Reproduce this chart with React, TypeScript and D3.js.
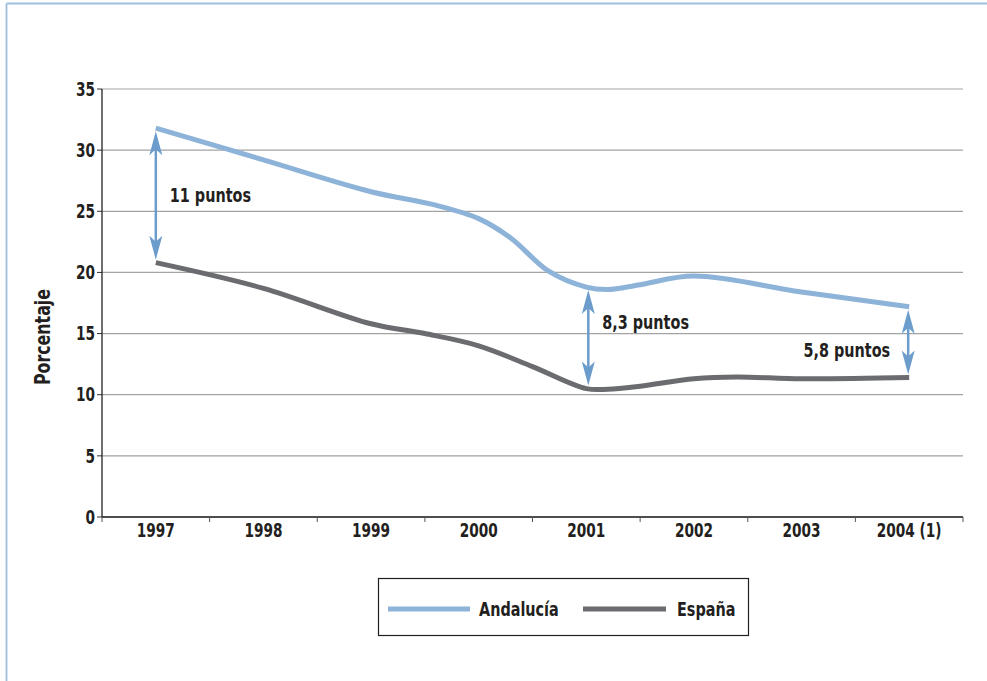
import React from "react";
import * as d3 from "d3";

// Year categories shown on the horizontal axis
const years = [1997, 1998, 1999, 2000, 2001, 2002, 2003, 2004];
const yearLabels = ["1997", "1998", "1999", "2000", "2001", "2002", "2003", "2004 (1)"];

// Sample positions (fractional years) and values for each series
const andaluciaT = [1997, 1998, 1999, 1999.6, 2000, 2000.3, 2000.65, 2001, 2001.2, 2001.5, 2002, 2003, 2004];
const andaluciaV = [31.8, 29.2, 26.6, 25.5, 24.4, 22.8, 20.1, 18.8, 18.6, 19.0, 19.7, 18.4, 17.2];

const espanaT = [1997, 1998, 1999, 1999.5, 2000, 2000.5, 2001, 2001.2, 2001.5, 2002, 2002.4, 2003, 2004];
const espanaV = [20.8, 18.7, 15.8, 15.0, 14.0, 12.3, 10.5, 10.45, 10.7, 11.3, 11.45, 11.3, 11.4];

// Gap annotations: year, upper value, lower value, label
const gapYears = [1997, 2001, 2004];
const gapTop = [31.8, 18.8, 17.2];
const gapBottom = [20.8, 10.5, 11.4];
const gapLabels = ["11 puntos", "8,3 puntos", "5,8 puntos"];

const yTicks = [0, 5, 10, 15, 20, 25, 30, 35];
const seriesNames = ["Andalucía", "España"];

const W = 987;
const H = 681;
const FONT = "'DejaVu Sans Condensed', 'DejaVu Sans', sans-serif";
const INK = "#231f20";
const BLUE = "#8db3d9";
const GREY = "#6b6c70";
const ARROW = "#6b9ccc";
const SX = 0.8;

// Bold, horizontally condensed label
function Label(props: {
  x: number;
  y: number;
  size: number;
  anchor?: "start" | "middle" | "end";
  rotate?: number;
  children: React.ReactNode;
}) {
  const { x, y, size, anchor = "start", rotate = 0, children } = props;
  return (
    <text
      transform={`translate(${x},${y}) rotate(${rotate}) scale(${SX},1)`}
      textAnchor={anchor}
      dy="0.35em"
      fontSize={size}
      fontWeight="bold"
      fill={INK}
    >
      {children}
    </text>
  );
}

export default function App() {
  const x = d3.scaleLinear().domain([1996.5, 2004.5]).range([102, 963]);
  const y = d3.scaleLinear().domain([0, 35]).range([517, 89]);

  const line = d3
    .line<[number, number]>()
    .x((d) => x(d[0]))
    .y((d) => y(d[1]))
    .curve(d3.curveCatmullRom.alpha(0.5));

  const andData = andaluciaT.map((t, i) => [t, andaluciaV[i]] as [number, number]);
  const espData = espanaT.map((t, i) => [t, espanaV[i]] as [number, number]);

  const boundaries = d3.range(years.length + 1).map((i) => 1996.5 + i);

  // Double-headed arrow with swept-back heads
  const arrow = (cx: number, y1: number, y2: number) => {
    const hl = 24;
    const hw = 6.5;
    const notch = 6;
    const up = `M${cx},${y1} L${cx + hw},${y1 + hl} L${cx},${y1 + hl - notch} L${cx - hw},${y1 + hl} Z`;
    const down = `M${cx},${y2} L${cx + hw},${y2 - hl} L${cx},${y2 - hl + notch} L${cx - hw},${y2 - hl} Z`;
    return (
      <g>
        <line x1={cx} x2={cx} y1={y1 + 10} y2={y2 - 10} stroke={ARROW} strokeWidth={2.5} />
        <path d={up} fill={ARROW} />
        <path d={down} fill={ARROW} />
      </g>
    );
  };

  return (
    <svg
      width={W}
      height={H}
      style={{ position: "absolute", left: 0, top: 0, background: "#fff" }}
      fontFamily={FONT}
    >
      {/* outer frame */}
      <line x1={6.5} x2={6.5} y1={3.5} y2={H} stroke="#9dbfdd" strokeWidth={1.8} />
      <line x1={6.5} x2={W} y1={3.5} y2={3.5} stroke="#9dbfdd" strokeWidth={1.8} />

      {/* horizontal grid and y ticks */}
      {yTicks.map((t) => (
        <g key={t}>
          <line x1={102} x2={963} y1={y(t)} y2={y(t)} stroke="#a3a3a3" strokeWidth={1.2} />
          <line x1={97} x2={102} y1={y(t)} y2={y(t)} stroke="#333" strokeWidth={1} />
          <Label x={95} y={y(t)} size={19} anchor="end">
            {t}
          </Label>
        </g>
      ))}

      {/* axes */}
      <line x1={102} x2={102} y1={89} y2={517} stroke={INK} strokeWidth={1.3} />
      <line x1={102} x2={963} y1={517} y2={517} stroke={INK} strokeWidth={1.3} />
      {boundaries.map((b) => (
        <line key={b} x1={x(b)} x2={x(b)} y1={517} y2={522} stroke="#555" strokeWidth={1} />
      ))}
      {years.map((yr, i) => (
        <Label key={yr} x={x(yr)} y={530} size={19} anchor="middle">
          {yearLabels[i]}
        </Label>
      ))}

      <Label x={42} y={337} size={22} anchor="middle" rotate={-90}>
        Porcentaje
      </Label>

      {/* series */}
      <path d={line(espData) ?? ""} fill="none" stroke={GREY} strokeWidth={5} />
      <path d={line(andData) ?? ""} fill="none" stroke={BLUE} strokeWidth={5} />

      {/* gap annotations */}
      {gapYears.map((yr, i) => {
        const cx = x(yr) + (i === 0 ? 0 : i === 1 ? 2 : -1);
        const y1 = y(gapTop[i]) + 3;
        const y2 = y(gapBottom[i]) - 3;
        const ly = i === 0 ? 195 : i === 1 ? 322 : 350;
        const lx = i === 2 ? cx - 18 : cx + 14;
        return (
          <g key={yr}>
            {arrow(cx, y1, y2)}
            <Label x={lx} y={ly} size={20} anchor={i === 2 ? "end" : "start"}>
              {gapLabels[i]}
            </Label>
          </g>
        );
      })}

      {/* legend */}
      <rect x={378.5} y={578.5} width={370} height={57} fill="#fff" stroke={INK} strokeWidth={1.2} />
      <line x1={388} x2={470} y1={609} y2={609} stroke={BLUE} strokeWidth={5} />
      <Label x={479} y={609} size={20}>
        {seriesNames[0]}
      </Label>
      <line x1={583} x2={666} y1={609} y2={609} stroke={GREY} strokeWidth={5} />
      <Label x={677} y={609} size={20}>
        {seriesNames[1]}
      </Label>
    </svg>
  );
}
